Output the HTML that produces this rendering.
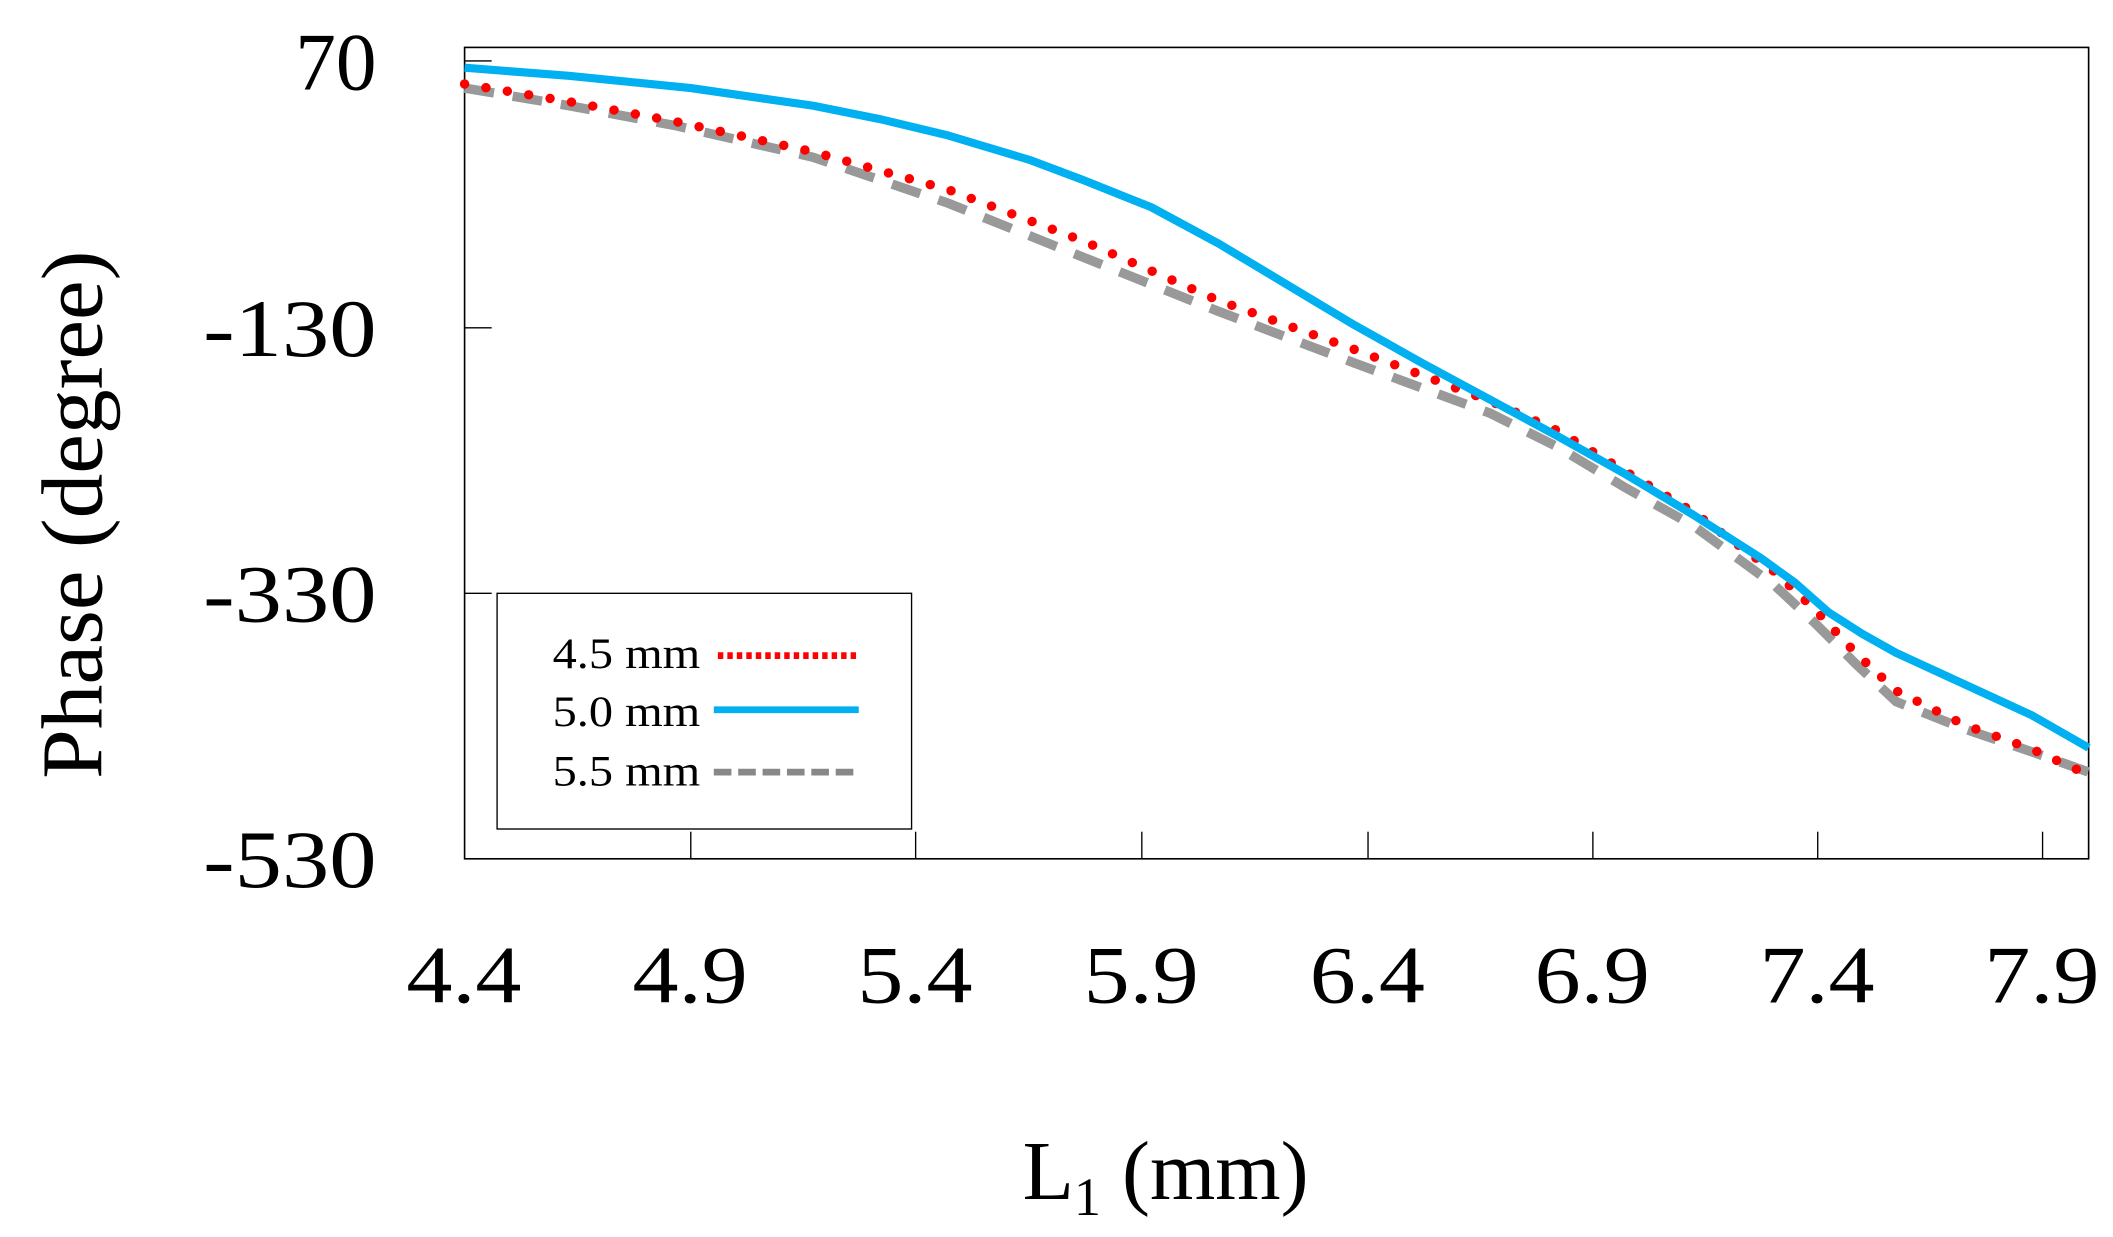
<!DOCTYPE html>
<html><head><meta charset="utf-8"><style>
html,body{margin:0;padding:0;background:#fff;width:2113px;height:1237px;overflow:hidden}
svg{display:block}
text{font-family:"Liberation Serif",serif;fill:#000}
</style></head><body>
<svg width="2113" height="1237" viewBox="0 0 1560 913.2" preserveAspectRatio="none">
<rect x="343" y="35" width="1199" height="599" fill="none" stroke="#000" stroke-width="1.2"/>
<g stroke="#000" stroke-width="1">
<line x1="343" y1="45" x2="363" y2="45"/><line x1="343" y1="242" x2="363" y2="242"/><line x1="343" y1="438" x2="363" y2="438"/>
<line x1="510" y1="634" x2="510" y2="614"/><line x1="676" y1="634" x2="676" y2="614"/><line x1="843" y1="634" x2="843" y2="614"/><line x1="1010" y1="634" x2="1010" y2="614"/><line x1="1176" y1="634" x2="1176" y2="614"/><line x1="1342" y1="634" x2="1342" y2="614"/><line x1="1508" y1="634" x2="1508" y2="614"/>
</g>
<g font-size="60">
<text x="218" y="66" textLength="60" lengthAdjust="spacingAndGlyphs">70</text>
<text x="150" y="263" textLength="128" lengthAdjust="spacingAndGlyphs">-130</text>
<text x="150" y="459" textLength="128" lengthAdjust="spacingAndGlyphs">-330</text>
<text x="150" y="655" textLength="128" lengthAdjust="spacingAndGlyphs">-530</text>
</g>
<g font-size="60">
<text x="300" y="740" textLength="85" lengthAdjust="spacingAndGlyphs">4.4</text>
<text x="467" y="740" textLength="85" lengthAdjust="spacingAndGlyphs">4.9</text>
<text x="633" y="740" textLength="85" lengthAdjust="spacingAndGlyphs">5.4</text>
<text x="800" y="740" textLength="85" lengthAdjust="spacingAndGlyphs">5.9</text>
<text x="967" y="740" textLength="85" lengthAdjust="spacingAndGlyphs">6.4</text>
<text x="1133" y="740" textLength="85" lengthAdjust="spacingAndGlyphs">6.9</text>
<text x="1299" y="740" textLength="85" lengthAdjust="spacingAndGlyphs">7.4</text>
<text x="1465" y="740" textLength="85" lengthAdjust="spacingAndGlyphs">7.9</text>
</g>
<text font-size="64" transform="translate(75,575) rotate(-90)" textLength="390" lengthAdjust="spacingAndGlyphs">Phase (degree)</text>
<text x="755" y="885" font-size="62">L<tspan font-size="40" dy="12">1</tspan><tspan dy="-12"> (mm)</tspan></text>
<polyline fill="none" stroke="#999" stroke-width="7" stroke-dasharray="22,14" points="343,65 420,78 500,93 600,116 700,150 800,190 900,230 1000,268 1100,305 1150,330 1200,360 1250,388 1280,410 1310,432 1340,460 1370,490 1400,518 1450,538 1500,555 1542,570"/>
<polyline fill="none" stroke="#f00" stroke-width="7" stroke-linecap="round" stroke-dasharray="0,16" points="343,62 420,75 500,90 600,112 700,140 800,178 900,222 1000,258 1100,296 1150,318 1200,348 1250,378 1280,400 1310,422 1340,450 1370,482 1400,510 1450,535 1500,553 1542,572"/>
<polyline fill="none" stroke="#00b0f0" stroke-width="6" stroke-linejoin="round" points="343,50 420,56 510,65 600,78 650,88 700,100 760,118 800,133 850,153 900,180 950,210 1000,240 1050,268 1100,295 1150,322 1200,350 1250,380 1300,412 1325,430 1350,452 1375,468 1400,482 1450,505 1500,528 1542,552"/>
<rect x="367" y="438" width="306" height="174" fill="#fff" stroke="#000" stroke-width="1"/>
<g font-size="32">
<text x="408" y="493" textLength="109" lengthAdjust="spacingAndGlyphs">4.5 mm</text>
<text x="408" y="536" textLength="109" lengthAdjust="spacingAndGlyphs">5.0 mm</text>
<text x="408" y="580" textLength="109" lengthAdjust="spacingAndGlyphs">5.5 mm</text>
</g>
<line x1="530" y1="484" x2="634" y2="484" stroke="#f00" stroke-width="5" stroke-dasharray="4,3"/>
<line x1="527" y1="524" x2="634" y2="524" stroke="#00b0f0" stroke-width="5"/>
<line x1="527" y1="570" x2="634" y2="570" stroke="#888" stroke-width="5" stroke-dasharray="13,5"/>
</svg>
</body></html>
